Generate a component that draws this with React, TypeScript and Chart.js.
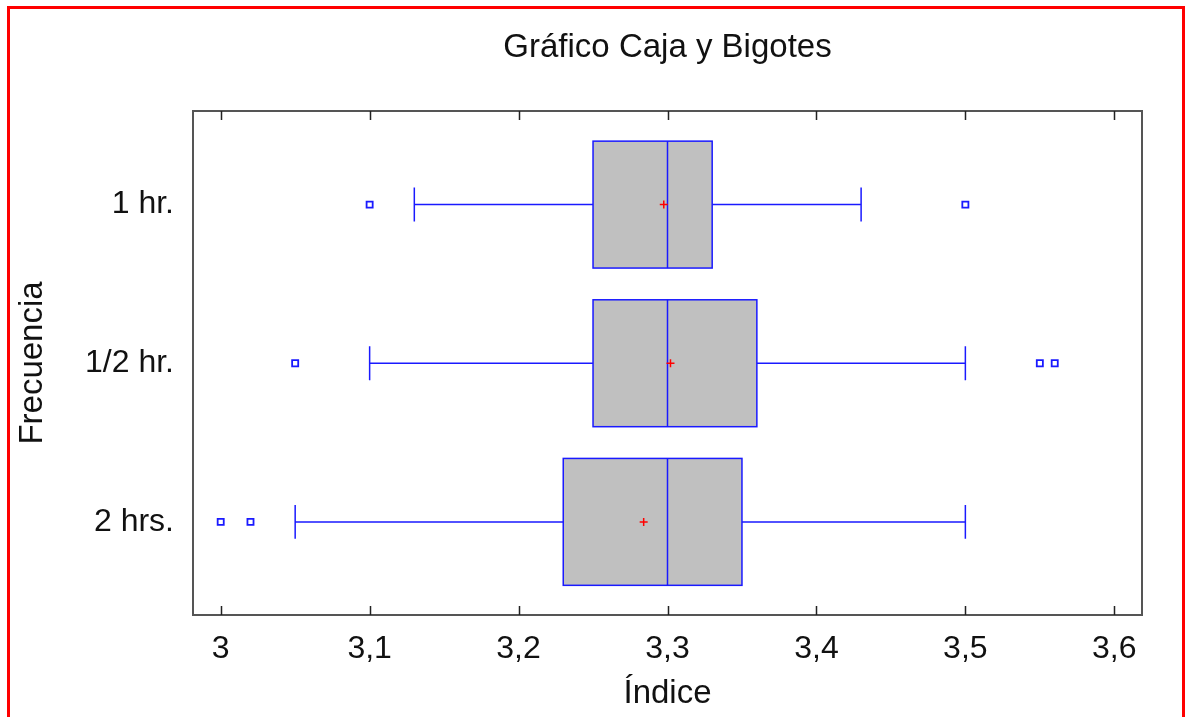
import React, { useEffect, useRef } from "react";
import { Chart, registerables } from "chart.js";

Chart.register(...registerables);

const categories = ["2 hrs.", "1/2 hr.", "1 hr."];
const categoryPos = [1, 2, 3];
const whiskerLow = [3.05, 3.10, 3.13];
const q1 = [3.23, 3.25, 3.25];
const median = [3.30, 3.30, 3.30];
const q3 = [3.35, 3.36, 3.33];
const whiskerHigh = [3.50, 3.50, 3.43];
const means = [3.284, 3.302, 3.2975];
const outliers: number[][] = [
  [3.00, 3.02],
  [3.05, 3.55, 3.56],
  [3.10, 3.50],
];
const xTicks = [3.0, 3.1, 3.2, 3.3, 3.4, 3.5, 3.6];

const FONT = "'Liberation Sans', Arial, sans-serif";
const BLUE = "#1a1aff";

const boxPlugin = {
  id: "boxPlugin",
  beforeDatasetsDraw(chart: any) {
    const { ctx, scales } = chart;
    const xs = scales.x;
    const ys = scales.y;
    const halfBox = Math.abs(ys.getPixelForValue(0.4) - ys.getPixelForValue(0));
    const halfCap = Math.abs(ys.getPixelForValue(0.107) - ys.getPixelForValue(0));
    ctx.save();
    ctx.strokeStyle = BLUE;
    ctx.lineWidth = 1.5;
    categoryPos.forEach((p, i) => {
      const cy = ys.getPixelForValue(p);
      const xl = xs.getPixelForValue(whiskerLow[i]);
      const x1 = xs.getPixelForValue(q1[i]);
      const xm = xs.getPixelForValue(median[i]);
      const x3 = xs.getPixelForValue(q3[i]);
      const xh = xs.getPixelForValue(whiskerHigh[i]);
      ctx.beginPath();
      ctx.moveTo(xl, cy);
      ctx.lineTo(x1, cy);
      ctx.moveTo(x3, cy);
      ctx.lineTo(xh, cy);
      ctx.moveTo(xl, cy - halfCap);
      ctx.lineTo(xl, cy + halfCap);
      ctx.moveTo(xh, cy - halfCap);
      ctx.lineTo(xh, cy + halfCap);
      ctx.stroke();
      ctx.fillStyle = "#c0c0c0";
      ctx.fillRect(x1, cy - halfBox, x3 - x1, 2 * halfBox);
      ctx.strokeRect(x1, cy - halfBox, x3 - x1, 2 * halfBox);
      ctx.beginPath();
      ctx.moveTo(xm, cy - halfBox);
      ctx.lineTo(xm, cy + halfBox);
      ctx.stroke();
    });
    ctx.restore();
  },
  afterDraw(chart: any) {
    const { ctx, chartArea, scales } = chart;
    const xs = scales.x;
    ctx.save();
    ctx.strokeStyle = "#555555";
    ctx.lineWidth = 2;
    ctx.strokeRect(chartArea.left, chartArea.top, chartArea.right - chartArea.left, chartArea.bottom - chartArea.top);
    ctx.lineWidth = 1.5;
    ctx.strokeStyle = "#222222";
    ctx.beginPath();
    xTicks.forEach((t) => {
      const x = Math.round(xs.getPixelForValue(t)) + 0.5;
      ctx.moveTo(x, chartArea.bottom);
      ctx.lineTo(x, chartArea.bottom - 9);
      ctx.moveTo(x, chartArea.top);
      ctx.lineTo(x, chartArea.top + 9);
    });
    ctx.stroke();
    ctx.fillStyle = "#111111";
    ctx.font = `33px ${FONT}`;
    ctx.textAlign = "center";
    ctx.textBaseline = "middle";
    ctx.fillText("Gráfico Caja y Bigotes", (chartArea.left + chartArea.right) / 2, 48);
    ctx.restore();
  },
};

export default function App() {
  const canvasRef = useRef<HTMLCanvasElement | null>(null);

  useEffect(() => {
    document.body.style.margin = "0";
    const canvas = canvasRef.current;
    if (!canvas) return;

    const outlierData: { x: number; y: number }[] = [];
    outliers.forEach((arr, i) => arr.forEach((v) => outlierData.push({ x: v, y: categoryPos[i] })));
    const meanData = means.map((m, i) => ({ x: m, y: categoryPos[i] }));

    const chart = new Chart(canvas, {
      type: "scatter",
      data: {
        datasets: [
          {
            label: "Atípicos",
            data: outlierData,
            pointStyle: "rect",
            radius: 4.3,
            borderColor: BLUE,
            backgroundColor: "rgba(0,0,0,0)",
            borderWidth: 1.8,
          },
          {
            label: "Media",
            data: meanData,
            pointStyle: "cross",
            radius: 4,
            borderColor: "#ff0000",
            borderWidth: 1.5,
          },
        ],
      },
      options: {
        animation: false,
        responsive: false,
        maintainAspectRatio: false,
        events: [],
        layout: { padding: { left: 0, top: 111, right: 45, bottom: 0 } },
        plugins: {
          legend: { display: false },
          tooltip: { enabled: false },
          title: { display: false },
        },
        scales: {
          x: {
            type: "linear",
            min: 2.9814,
            max: 3.6186,
            afterBuildTicks: (scale: any) => {
              scale.ticks = xTicks.map((v) => ({ value: v }));
            },
            afterFit: (scale: any) => {
              scale.height = 102;
            },
            grid: { display: false, drawTicks: false },
            border: { display: false },
            ticks: {
              color: "#111111",
              font: { family: FONT, size: 32 },
              padding: 15,
              maxRotation: 0,
              autoSkip: false,
              callback: (v: any) => String(Number(v).toFixed(1)).replace(".0", "").replace(".", ","),
            },
            title: {
              display: true,
              text: "Índice",
              color: "#111111",
              font: { family: FONT, size: 33 },
              padding: { top: 0, bottom: 3 },
            },
          },
          y: {
            type: "linear",
            min: 0.413,
            max: 3.59,
            afterBuildTicks: (scale: any) => {
              scale.ticks = categoryPos.map((v) => ({ value: v }));
            },
            afterFit: (scale: any) => {
              scale.width = 193;
            },
            grid: { display: false, drawTicks: false },
            border: { display: false },
            ticks: {
              color: "#111111",
              font: { family: FONT, size: 32 },
              padding: 19,
              autoSkip: false,
              callback: (v: any) => {
                const idx = categoryPos.indexOf(Number(v));
                return idx >= 0 ? categories[idx] : "";
              },
            },
            title: {
              display: true,
              text: "Frecuencia",
              color: "#111111",
              font: { family: FONT, size: 33 },
              padding: { top: 13, bottom: 0 },
            },
          },
        },
      },
      plugins: [boxPlugin],
    });

    return () => chart.destroy();
  }, []);

  return (
    <div style={{ position: "relative", width: 1187, height: 717, overflow: "hidden", background: "#ffffff" }}>
      <canvas ref={canvasRef} width={1187} height={717} style={{ position: "absolute", left: 0, top: 0 }} />
      <div
        style={{
          position: "absolute",
          left: 7,
          top: 6,
          width: 1185 - 7 - 6,
          height: 760,
          border: "3px solid #ff0000",
          pointerEvents: "none",
        }}
      />
    </div>
  );
}
